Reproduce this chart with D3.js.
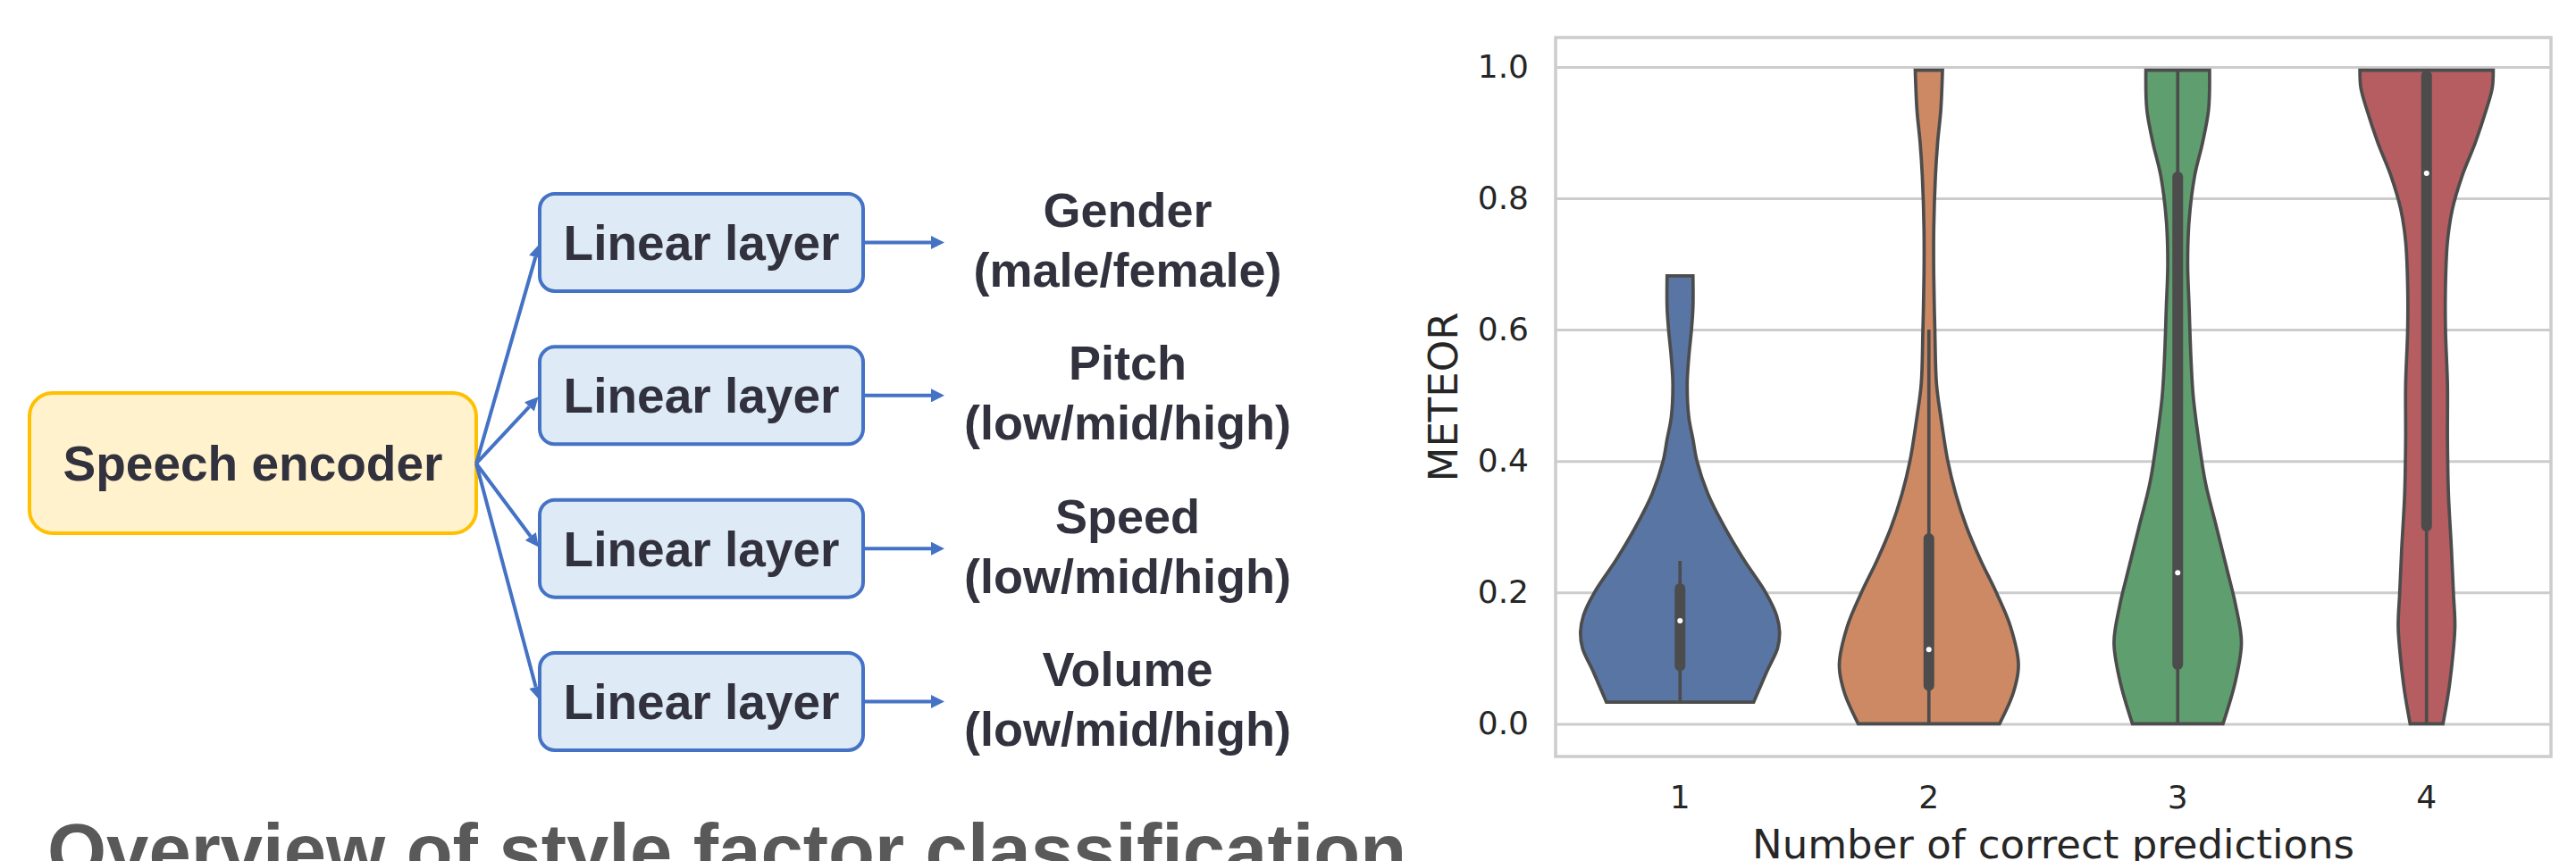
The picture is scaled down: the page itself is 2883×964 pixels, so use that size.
<!DOCTYPE html>
<html>
<head>
<meta charset="utf-8">
<script src="https://cdn.jsdelivr.net/npm/d3@7"></script>
<style>
	body { margin: 0; background: #fff; }
	svg { display: block; }
	.diag text { font-family: 'Liberation Sans', Arial, sans-serif; font-weight: bold; fill: #32323e; }
	.chart text { font-family: 'DejaVu Sans', sans-serif; fill: #262626; }
</style>
</head>
<body>
<svg id="fig" width="2883" height="964"></svg>
<script>
//Data------------------------------------------------------------------------
//style factor heads of the diagram
var factors = ['Gender', 'Pitch', 'Speed', 'Volume'];
var factorClasses = ['(male/female)', '(low/mid/high)', '(low/mid/high)', '(low/mid/high)'];

//violin chart: METEOR per number of correct predictions
var categories = ['1', '2', '3', '4'];
var yTicks = [0, 0.2, 0.4, 0.6, 0.8, 1.0];

//density outlines: [METEOR, relative half width]
var violin1 = [[0.033, 0.74], [0.082, 0.88], [0.115, 0.98], [0.14, 1.0], [0.165, 0.97],
	[0.20, 0.86], [0.25, 0.64], [0.30, 0.445], [0.35, 0.28], [0.40, 0.17], [0.433, 0.13],
	[0.467, 0.088], [0.517, 0.072], [0.558, 0.088], [0.60, 0.115], [0.634, 0.13], [0.682, 0.13]];
var violin2 = [[0, 0.71], [0.048, 0.85], [0.09, 0.90], [0.148, 0.82], [0.199, 0.68],
	[0.249, 0.52], [0.299, 0.38], [0.35, 0.27], [0.40, 0.19], [0.467, 0.12], [0.517, 0.077],
	[0.60, 0.06], [0.684, 0.049], [0.751, 0.049], [0.834, 0.066], [0.885, 0.088],
	[0.935, 0.12], [0.995, 0.137]];
var violin3 = [[0, 0.455], [0.065, 0.58], [0.124, 0.64], [0.182, 0.58], [0.232, 0.50],
	[0.299, 0.39], [0.366, 0.28], [0.433, 0.21], [0.50, 0.155], [0.567, 0.13], [0.634, 0.115],
	[0.70, 0.10], [0.767, 0.115], [0.834, 0.17], [0.885, 0.25], [0.935, 0.31], [0.995, 0.32]];
var violin4 = [[0, 0.165], [0.048, 0.22], [0.098, 0.26], [0.148, 0.285], [0.199, 0.27],
	[0.266, 0.25], [0.35, 0.22], [0.433, 0.21], [0.517, 0.21], [0.60, 0.19], [0.667, 0.19],
	[0.734, 0.21], [0.784, 0.26], [0.834, 0.357], [0.885, 0.49], [0.935, 0.60],
	[0.968, 0.66], [0.995, 0.67]];

//inner box stats
var whiskerLow = [0.033, 0, 0, 0];
var q1 = [0.080, 0.05, 0.082, 0.293];
var medians = [0.157, 0.113, 0.23, 0.838];
var q3 = [0.214, 0.29, 0.841, 0.995];
var whiskerHigh = [0.248, 0.60, 0.995, 0.995];

var colors = ['#5875a4', '#cc8963', '#5f9e6e', '#b55d60'];

//Figure----------------------------------------------------------------------
var svg = d3.select('#fig');
var blue = '#4472c4';

svg.append('defs').append('marker')
	.attr('id', 'head')
	.attr('viewBox', '0 0 10 10')
	.attr('refX', 0)
	.attr('refY', 5)
	.attr('markerUnits', 'userSpaceOnUse')
	.attr('markerWidth', 17)
	.attr('markerHeight', 15)
	.attr('orient', 'auto')
	.append('path')
	.attr('d', 'M0,0L10,5L0,10Z')
	.attr('fill', blue);

//draws a line ending with an arrow whose tip sits at (x2, y2)
function arrow(g, x1, y1, x2, y2) {
	var len = Math.sqrt((x2 - x1) * (x2 - x1) + (y2 - y1) * (y2 - y1));
	var k = (len - 17) / len;
	g.append('line')
		.attr('x1', x1)
		.attr('y1', y1)
		.attr('x2', x1 + (x2 - x1) * k)
		.attr('y2', y1 + (y2 - y1) * k)
		.attr('stroke', blue)
		.attr('stroke-width', 4)
		.attr('marker-end', 'url(#head)');
}

//Diagram---------------------------------------------------------------------
var diag = svg.append('g').classed('diag', true);
var yHead = d3.scalePoint().domain(factors).range([271.5, 785.5]);

diag.append('rect')
	.attr('x', 33).attr('y', 440)
	.attr('width', 500).attr('height', 157)
	.attr('rx', 26)
	.attr('fill', '#fff2cc')
	.attr('stroke', '#ffc000')
	.attr('stroke-width', 4);
diag.append('text')
	.attr('x', 283).attr('y', 538)
	.attr('text-anchor', 'middle')
	.style('font-size', '55px')
	.text('Speech encoder');

factors.forEach(function (f, i) {
	var cy = yHead(f);
	arrow(diag, 533, 519, 604, cy);
	diag.append('rect')
		.attr('x', 604).attr('y', cy - 54.5)
		.attr('width', 362).attr('height', 109)
		.attr('rx', 17)
		.attr('fill', '#deebf7')
		.attr('stroke', blue)
		.attr('stroke-width', 4);
	diag.append('text')
		.attr('x', 785).attr('y', cy + 19.5)
		.attr('text-anchor', 'middle')
		.style('font-size', '55px')
		.text('Linear layer');
	arrow(diag, 966, cy, 1059, cy);
	diag.append('text')
		.attr('x', 1262).attr('y', cy - 17.5)
		.attr('text-anchor', 'middle')
		.style('font-size', '54px')
		.text(f);
	diag.append('text')
		.attr('x', 1262).attr('y', cy + 49.5)
		.attr('text-anchor', 'middle')
		.style('font-size', '54px')
		.text(factorClasses[i]);
});

diag.append('text')
	.attr('x', 53).attr('y', 982)
	.style('font-size', '85px')
	.style('fill', '#595959')
	.text('Overview of style factor classification');

//Violin chart----------------------------------------------------------------
var chart = svg.append('g').classed('chart', true);
var plotLeft = 1741, plotRight = 2855, plotTop = 42, plotBottom = 847;

var x = d3.scaleBand().domain(categories).range([plotLeft, plotRight]).padding(0);
var y = d3.scaleLinear().domain([-0.0498, 1.0448]).range([plotBottom, plotTop]);
var w = d3.scaleLinear().domain([0, 1]).range([0, x.bandwidth() * 0.4]);

//grid
chart.append('g')
	.attr('transform', 'translate(' + plotLeft + ',0)')
	.call(d3.axisLeft(y).tickValues(yTicks).tickSize(-(plotRight - plotLeft)).tickFormat(''))
	.call(function (g) { g.select('.domain').remove(); })
	.selectAll('line')
	.attr('stroke', '#cccccc')
	.attr('stroke-width', 3);

//frame
chart.append('rect')
	.attr('x', plotLeft).attr('y', plotTop)
	.attr('width', plotRight - plotLeft).attr('height', plotBottom - plotTop)
	.attr('fill', 'none')
	.attr('stroke', '#cccccc')
	.attr('stroke-width', 3.5);

var violins = [violin1, violin2, violin3, violin4];
violins.forEach(function (v, i) {
	var cx = x(categories[i]) + x.bandwidth() / 2;
	var area = d3.area()
		.y(function (d) { return y(d[0]); })
		.x0(function (d) { return cx - w(d[1]); })
		.x1(function (d) { return cx + w(d[1]); })
		.curve(d3.curveCatmullRom);
	chart.append('path')
		.datum(v)
		.attr('d', area)
		.attr('fill', colors[i])
		.attr('stroke', '#4c4c4c')
		.attr('stroke-width', 3.7);

	//whisker, box and median
	chart.append('line')
		.attr('x1', cx).attr('x2', cx)
		.attr('y1', y(whiskerLow[i])).attr('y2', y(whiskerHigh[i]))
		.attr('stroke', '#4c4c4c')
		.attr('stroke-width', 3.7);
	chart.append('line')
		.attr('x1', cx).attr('x2', cx)
		.attr('y1', y(q1[i]) - 6).attr('y2', y(q3[i]) + 6)
		.attr('stroke', '#4c4c4c')
		.attr('stroke-width', 12)
		.attr('stroke-linecap', 'round');
	chart.append('circle')
		.attr('cx', cx).attr('cy', y(medians[i]))
		.attr('r', 3)
		.attr('fill', '#fff');
});

//axes
var yAxis = chart.append('g')
	.attr('transform', 'translate(' + plotLeft + ',0)')
	.call(d3.axisLeft(y).tickValues(yTicks).tickFormat(d3.format('.1f')).tickSize(0).tickPadding(30));
var xAxis = chart.append('g')
	.attr('transform', 'translate(0,' + plotBottom + ')')
	.call(d3.axisBottom(x).tickSize(0).tickPadding(32));
[yAxis, xAxis].forEach(function (g) {
	g.select('.domain').remove();
	g.selectAll('text')
		.style('font-size', '36px')
		.style('font-family', "'DejaVu Sans', sans-serif")
		.attr('fill', '#262626');
});

chart.append('text')
	.attr('x', (plotLeft + plotRight) / 2).attr('y', 961)
	.attr('text-anchor', 'middle')
	.style('font-size', '45px')
	.text('Number of correct predictions');
chart.append('text')
	.attr('transform', 'translate(1631,' + (plotTop + plotBottom) / 2 + ') rotate(-90)')
	.attr('text-anchor', 'middle')
	.style('font-size', '45px')
	.text('METEOR');
</script>
</body>
</html>
